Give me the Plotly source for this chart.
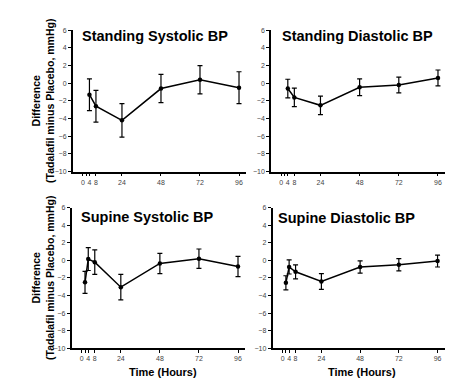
import plotly.graph_objects as go

# ---- data ----
standing_hours = [4, 8, 24, 48, 72, 96]
supine_hours = [2, 4, 8, 24, 48, 72, 96]

standing_sys = [-1.3, -2.6, -4.2, -0.6, 0.4, -0.5]
standing_sys_err = [1.8, 1.8, 1.9, 1.6, 1.6, 1.8]

standing_dia = [-0.6, -1.6, -2.5, -0.45, -0.2, 0.6]
standing_dia_err = [1.05, 1.05, 1.05, 0.95, 0.9, 0.9]

supine_sys = [-2.5, 0.15, -0.2, -3.05, -0.35, 0.2, -0.7]
supine_sys_err = [1.25, 1.3, 1.4, 1.45, 1.15, 1.1, 1.15]

supine_dia = [-2.55, -0.75, -1.3, -2.4, -0.75, -0.5, -0.07]
supine_dia_err = [0.8, 0.8, 0.8, 0.9, 0.7, 0.7, 0.68]

panel_titles = ["Standing Systolic BP", "Standing Diastolic BP",
                "Supine Systolic BP", "Supine Diastolic BP"]

x_tickvals = [0, 2, 4, 8, 24, 48, 72, 96]
x_ticktext = ["0", "", "4", "8", "24", "48", "72", "96"]
y_tickvals = [-10, -8, -6, -4, -2, 0, 2, 4, 6]

W, H = 470, 387
FONT = "Arial, Liberation Sans, sans-serif"

def px_x(p):
    return p / W

def px_y(p):
    return 1 - p / H

panels = [
    (standing_hours, standing_sys, standing_sys_err, (72.7, 246), (26.7, 170.7)),
    (standing_hours, standing_dia, standing_dia_err, (271, 445), (26.7, 170.7)),
    (supine_hours, supine_sys, supine_sys_err, (71.5, 245), (207.5, 350.5)),
    (supine_hours, supine_dia, supine_dia_err, (272.5, 444.5), (207.5, 350.5)),
]

fig = go.Figure()
layout = dict(
    width=W, height=H,
    margin=dict(l=0, r=0, t=0, b=0),
    paper_bgcolor="white", plot_bgcolor="white",
    showlegend=False,
    font=dict(family=FONT, color="black"),
)

for i, (hrs, vals, errs, (x0, x1), (y0, y1)) in enumerate(panels):
    n = i + 1
    xa = "x" if n == 1 else f"x{n}"
    ya = "y" if n == 1 else f"y{n}"
    fig.add_trace(go.Scatter(
        x=hrs, y=vals, xaxis=xa, yaxis=ya,
        mode="lines+markers",
        line=dict(color="black", width=1.5),
        marker=dict(color="black", size=4.5),
        error_y=dict(type="data", array=errs, visible=True,
                     color="black", thickness=1.2, width=2.5),
        cliponaxis=False,
    ))
    xkey = "xaxis" if n == 1 else f"xaxis{n}"
    ykey = "yaxis" if n == 1 else f"yaxis{n}"
    layout[xkey] = dict(
        domain=[px_x(x0), px_x(x1)], anchor=ya,
        range=[-6.3, 100.3],
        showgrid=False, zeroline=False,
        showline=True, linecolor="black", linewidth=1.5,
        ticks="outside", ticklen=3, tickwidth=1, tickcolor="black",
        tickvals=x_tickvals, ticktext=x_ticktext,
        tickfont=dict(size=7, color="#444", family=FONT),
    )
    layout[ykey] = dict(
        domain=[px_y(y1), px_y(y0)], anchor=xa,
        range=[-10, 6],
        showgrid=False, zeroline=False,
        showline=True, linecolor="black", linewidth=1.5,
        ticks="outside", ticklen=3, tickwidth=1, tickcolor="black",
        tickvals=y_tickvals,
        tickfont=dict(size=7, color="#444", family=FONT),
    )

annotations = []
title_pos = [(80, 33), (280, 33), (79, 217), (276, 218)]
for t, (tx, ty) in zip(panel_titles, title_pos):
    annotations.append(dict(
        text=f"<b>{t}</b>", x=px_x(tx), y=px_y(ty), xref="paper", yref="paper",
        xanchor="left", yanchor="middle", showarrow=False,
        font=dict(size=14.5, family=FONT, color="black"),
    ))

for cy in (98.7, 279):
    annotations.append(dict(
        text="<b>Difference<br>(Tadalafil minus Placebo, mmHg)</b>",
        x=px_x(43), y=px_y(cy), xref="paper", yref="paper",
        xanchor="center", yanchor="middle", textangle=-90, showarrow=False,
        font=dict(size=10.5, family=FONT, color="black"),
    ))

for cx in (163, 362):
    annotations.append(dict(
        text="<b>Time (Hours)</b>", x=px_x(cx), y=px_y(375),
        xref="paper", yref="paper", xanchor="center", yanchor="middle",
        showarrow=False, font=dict(size=11, family=FONT, color="black"),
    ))

layout["annotations"] = annotations
fig.update_layout(**layout)
fig.write_html("out.html",
               config={"displayModeBar": False},
               post_script="document.body.style.margin='0';document.body.style.padding='0';")
